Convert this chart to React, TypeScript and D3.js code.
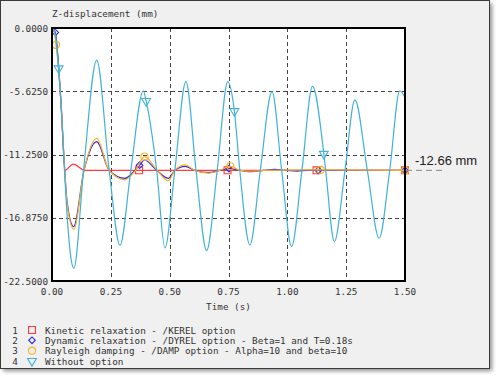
import React, { useEffect, useRef } from 'react';
import * as d3 from 'd3';

// time ticks (s) and displacement ticks (mm)
const xTicks = [0, 0.25, 0.5, 0.75, 1.0, 1.25, 1.5];
const yTicks = [0, -5.625, -11.25, -16.875, -22.5];

const legendLabels = [
  'Kinetic relaxation - /KEREL option',
  'Dynamic relaxation - /DYREL option - Beta=1 and T=0.18s',
  'Rayleigh damping - /DAMP option - Alpha=10 and beta=10',
  'Without option',
];

// curve 1 : /KEREL
const kerelCurve = [
  [0, 0], [0.006, -0.1], [0.017, -1.0], [0.04, -7.3], [0.055, -12.66],
  [0.09, -12.1], [0.14, -12.66],
];
const kerelMarks = [[0.37, -12.66], [0.746, -12.66], [1.124, -12.66], [1.5, -12.66]];

// curve 2 : /DYREL
const dyrelCurve = [
  [0, 0], [0.006, -0.1], [0.04, -7.3], [0.05, -11.2], [0.065, -15.6],
  [0.092, -17.67], [0.136, -12.66], [0.19, -10.11], [0.243, -12.66],
  [0.31, -13.37], [0.352, -12.66], [0.393, -11.74], [0.445, -12.66],
  [0.494, -13.37], [0.522, -12.66], [0.565, -12.3], [0.607, -12.66],
  [0.664, -12.87], [0.713, -12.66], [0.8, -12.66], [0.848, -12.78],
  [0.9, -12.66], [0.945, -12.58], [1.0, -12.66], [1.04, -12.72], [1.09, -12.66],
];
const dyrelMarks = [[0.014, -0.4], [0.372, -12.2], [0.752, -12.5], [1.132, -12.66], [1.5, -12.66]];

// curve 3 : /DAMP
const dampCurve = [
  [0, 0], [0.006, -0.1], [0.04, -7.2], [0.05, -11.2], [0.065, -15.8],
  [0.093, -17.9], [0.136, -12.66], [0.19, -9.81], [0.243, -12.66],
  [0.31, -13.5], [0.355, -12.66], [0.447, -12.66], [0.494, -13.58],
  [0.522, -12.66], [0.565, -12.18], [0.607, -12.66], [0.664, -12.9],
  [0.713, -12.66], [0.8, -12.66], [0.85, -12.74], [0.9, -12.66],
];
const dampMarks = [[0.017, -1.5], [0.393, -11.44], [0.758, -12.3], [1.142, -12.62], [1.5, -12.66]];

// curve 4 : without option
const noOptionCurve = [
  [0, 0], [0.006, -0.1], [0.017, -1.0], [0.04, -7.3], [0.053, -12.66],
  [0.066, -17.2], [0.08, -20.4], [0.093, -21.37], [0.134, -12.66],
  [0.19, -2.85], [0.243, -12.66], [0.289, -19.33], [0.335, -12.66],
  [0.388, -5.58], [0.445, -12.66], [0.48, -19.56], [0.522, -12.66],
  [0.569, -4.77], [0.612, -12.66], [0.657, -19.8], [0.702, -12.66],
  [0.747, -4.77], [0.798, -12.66], [0.841, -19.3], [0.885, -12.66],
  [0.935, -5.66], [0.976, -12.66], [1.018, -19.45], [1.062, -12.66],
  [1.107, -5.2], [1.163, -12.66], [1.2, -19.0], [1.245, -12.66],
  [1.287, -6.4], [1.34, -12.66], [1.39, -18.7], [1.435, -12.66],
  [1.478, -5.58], [1.5, -6.2],
];
const noOptionMarks = [[0.028, -3.6], [0.4, -6.5], [0.775, -7.4], [1.155, -11.2]];

const finalValue = -12.66;

const series = [
  { curve: kerelCurve, marks: kerelMarks, color: '#ff3b3b', symbol: d3.symbolSquare, size: 48, rot: 0 },
  { curve: dyrelCurve, marks: dyrelMarks, color: '#2a2ae8', symbol: d3.symbolSquare, size: 22, rot: 45 },
  { curve: dampCurve, marks: dampMarks, color: '#ffb020', symbol: d3.symbolCircle, size: 40, rot: 0 },
  { curve: noOptionCurve, marks: noOptionMarks, color: '#40b2da', symbol: d3.symbolTriangle, size: 34, rot: 180 },
];

const mono = '"DejaVu Sans Mono", monospace';

export default function App() {
  const ref = useRef(null);

  useEffect(() => {
    const svg = d3.select(ref.current);
    svg.selectAll('*').remove();

    const plot = { left: 52, top: 28, right: 405, bottom: 281 };

    const x = d3.scaleLinear().domain([0, 1.5]).range([plot.left, plot.right]);
    const y = d3.scaleLinear().domain([-22.5, 0]).range([plot.bottom, plot.top]);

    const defs = svg.append('defs');
    const blur = defs.append('filter').attr('id', 'shadow').attr('x', '-5%').attr('y', '-5%').attr('width', '110%').attr('height', '110%');
    blur.append('feGaussianBlur').attr('stdDeviation', 2);
    defs
      .append('clipPath')
      .attr('id', 'plot-clip')
      .append('rect')
      .attr('x', plot.left)
      .attr('y', plot.top - 4)
      .attr('width', plot.right - plot.left + 4)
      .attr('height', plot.bottom - plot.top + 4);

    // panel + shadow
    svg
      .append('rect')
      .attr('x', 3)
      .attr('y', 3)
      .attr('width', 489)
      .attr('height', 368)
      .attr('fill', '#000')
      .attr('opacity', 0.45)
      .attr('filter', 'url(#shadow)');
    svg
      .append('rect')
      .attr('x', 0.5)
      .attr('y', 0.5)
      .attr('width', 489)
      .attr('height', 368)
      .attr('fill', '#f0f0f0')
      .attr('stroke', '#3a3a3a');

    // plot background
    svg
      .append('rect')
      .attr('x', plot.left)
      .attr('y', plot.top)
      .attr('width', plot.right - plot.left)
      .attr('height', plot.bottom - plot.top)
      .attr('fill', '#fff');

    // grid
    const grid = svg.append('g').attr('stroke', '#444').attr('stroke-dasharray', '4,3').attr('stroke-width', 1);
    xTicks.slice(1, -1).forEach((t) => {
      grid
        .append('line')
        .attr('x1', Math.round(x(t)) + 0.5)
        .attr('x2', Math.round(x(t)) + 0.5)
        .attr('y1', plot.top)
        .attr('y2', plot.bottom);
    });
    yTicks.slice(1, -1).forEach((v) => {
      grid
        .append('line')
        .attr('x1', plot.left)
        .attr('x2', plot.right)
        .attr('y1', Math.round(y(v)) + 0.5)
        .attr('y2', Math.round(y(v)) + 0.5);
    });

    // tick labels
    svg
      .selectAll('.ytick')
      .data(yTicks)
      .enter()
      .append('text')
      .attr('x', 48)
      .attr('y', (d) => y(d) + 3.5)
      .attr('text-anchor', 'end')
      .style('font-family', mono)
      .style('font-size', '9.3px')
      .style('fill', '#333')
      .text((d) => d.toFixed(4));

    svg
      .selectAll('.xtick')
      .data(xTicks)
      .enter()
      .append('text')
      .attr('x', (d) => x(d))
      .attr('y', 295)
      .attr('text-anchor', 'middle')
      .style('font-family', mono)
      .style('font-size', '9.3px')
      .style('fill', '#333')
      .text((d) => d.toFixed(2));

    svg
      .append('text')
      .attr('x', plot.left)
      .attr('y', 17)
      .style('font-family', mono)
      .style('font-size', '9.3px')
      .style('fill', '#333')
      .text('Z-displacement (mm)');

    svg
      .append('text')
      .attr('x', (plot.left + plot.right) / 2)
      .attr('y', 309.5)
      .attr('text-anchor', 'middle')
      .style('font-family', mono)
      .style('font-size', '9.3px')
      .style('fill', '#333')
      .text('Time (s)');

    // curves
    const line = d3
      .line()
      .x((d) => x(d[0]))
      .y((d) => y(d[1]))
      .curve(d3.curveMonotoneX);

    const curves = svg.append('g').attr('clip-path', 'url(#plot-clip)');
    series.forEach((s) => {
      const pts = [...s.curve, ...s.marks].sort((a, b) => a[0] - b[0]);
      curves
        .append('path')
        .datum(pts)
        .attr('d', line)
        .attr('fill', 'none')
        .attr('stroke', s.color)
        .attr('stroke-width', 1.2);
      curves
        .selectAll(null)
        .data(s.marks)
        .enter()
        .append('path')
        .attr('d', d3.symbol().type(s.symbol).size(s.size))
        .attr('transform', (d) => 'translate(' + x(d[0]) + ',' + y(d[1]) + ') rotate(' + s.rot + ')')
        .attr('fill', 'none')
        .attr('stroke', s.color)
        .attr('stroke-width', 1.1);
    });

    // frame
    svg
      .append('rect')
      .attr('x', plot.left)
      .attr('y', plot.top)
      .attr('width', plot.right - plot.left)
      .attr('height', plot.bottom - plot.top)
      .attr('fill', 'none')
      .attr('stroke', '#000')
      .attr('stroke-width', 2);

    // final value annotation
    svg
      .append('line')
      .attr('x1', plot.right + 1)
      .attr('x2', 444)
      .attr('y1', y(finalValue))
      .attr('y2', y(finalValue))
      .attr('stroke', '#888')
      .attr('stroke-dasharray', '6,4');
    svg
      .append('text')
      .attr('x', 415)
      .attr('y', 165)
      .style('font-family', '"Liberation Sans", Arial, sans-serif')
      .style('font-size', '13px')
      .style('fill', '#222')
      .text(finalValue.toFixed(2) + ' mm');

    // legend
    const rowY = [330, 340.3, 350.7, 361];
    const legend = svg.append('g');
    legendLabels.forEach((label, i) => {
      const s = series[i];
      legend
        .append('text')
        .attr('x', 15)
        .attr('y', rowY[i] + 3.5)
        .attr('text-anchor', 'middle')
        .style('font-family', mono)
        .style('font-size', '9.3px')
        .style('fill', '#333')
        .text(i + 1);
      legend
        .append('path')
        .attr('d', d3.symbol().type(s.symbol).size(s.size)())
        .attr('transform', 'translate(32,' + rowY[i] + ') rotate(' + s.rot + ')')
        .attr('fill', 'none')
        .attr('stroke', s.color)
        .attr('stroke-width', 1.1);
      legend
        .append('text')
        .attr('x', 45)
        .attr('y', rowY[i] + 3.5)
        .style('font-family', mono)
        .style('font-size', '9.3px')
        .style('fill', '#333')
        .text(label);
    });
  }, []);

  return (
    <div style={{ position: 'absolute', left: 0, top: 0 }}>
      <svg ref={ref} width={496} height={375} style={{ display: 'block' }} />
    </div>
  );
}
